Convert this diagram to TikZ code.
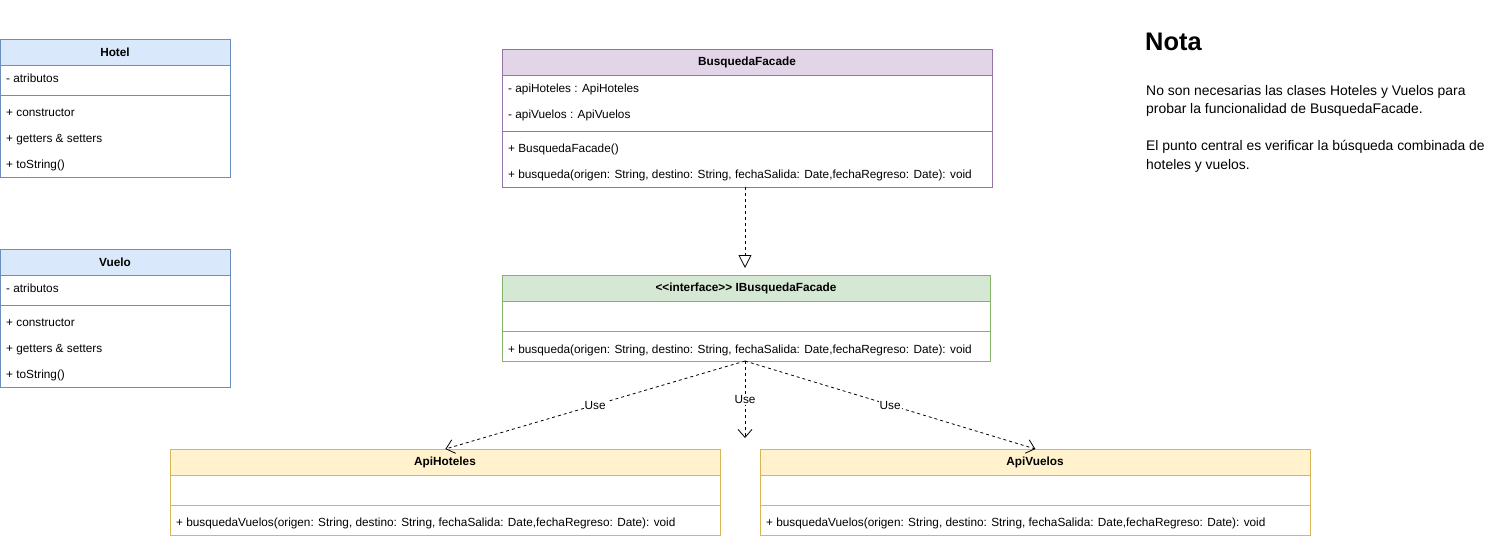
\documentclass[tikz,border=0pt]{standalone}
\usepackage{fontspec}
\setmainfont{Liberation Sans}
\usepackage{xcolor}
\usetikzlibrary{positioning,calc,arrows.meta}

\definecolor{blueFill}{HTML}{DAE8FC}
\definecolor{blueLine}{HTML}{6C8EBF}
\definecolor{purpleFill}{HTML}{E1D5E7}
\definecolor{purpleLine}{HTML}{9673A6}
\definecolor{greenFill}{HTML}{D5E8D4}
\definecolor{greenLine}{HTML}{82B366}
\definecolor{yellowFill}{HTML}{FFF2CC}
\definecolor{yellowLine}{HTML}{D6B656}

\tikzset{
  classbox/.style={draw, rectangle, anchor=north west, inner sep=0pt, line width=0.8pt},
  classname/.style={inner sep=0pt, font=\bfseries\fontsize{11.8}{14}\selectfont},
  member/.style={anchor=base west, inner sep=0pt, font=\fontsize{11.8}{14}\selectfont},
  dep/.style={line width=0.8pt, dash pattern=on 3pt off 3pt},
  uselabel/.style={fill=white, inner sep=1pt, font=\fontsize{11.8}{14}\selectfont},
  notaline/.style={anchor=base west, inner sep=0pt, font=\fontsize{13.9}{18}\selectfont}
}

\begin{document}
\begin{tikzpicture}[x=1pt, y=-1pt]
    \useasboundingbox[fill=white] (0,0) rectangle (1501,539);

    % Hotel
    \fill[blueFill] (0,39) rectangle (230,65);
    \node[classbox, draw=blueLine, minimum width=230pt, minimum height=138pt] (hotel) at (0,39) {};
    \draw[blueLine, line width=0.8pt] (0,65) -- (230,65) (0,95) -- (230,95);
    \node[classname] (hotelName) at (115,52) {Hotel};
    \node[member] (hotelAttr) at (6,82) {- atributos};
    \node[member] (hotelM1) at (6,116) {+ constructor};
    \node[member] (hotelM2) at (6,142) {+ getters \& setters};
    \node[member] (hotelM3) at (6,168) {+ toString()};

    % Vuelo
    \fill[blueFill] (0,249) rectangle (230,275);
    \node[classbox, draw=blueLine, minimum width=230pt, minimum height=138pt] (vuelo) at (0,249) {};
    \draw[blueLine, line width=0.8pt] (0,275) -- (230,275) (0,305) -- (230,305);
    \node[classname] (vueloName) at (115,262) {Vuelo};
    \node[member] (vueloAttr) at (6,292) {- atributos};
    \node[member] (vueloM1) at (6,326) {+ constructor};
    \node[member] (vueloM2) at (6,352) {+ getters \& setters};
    \node[member] (vueloM3) at (6,378) {+ toString()};

    % BusquedaFacade
    \fill[purpleFill] (502,49) rectangle (992,75);
    \node[classbox, draw=purpleLine, minimum width=490pt, minimum height=138pt] (fachada) at (502,49) {};
    \draw[purpleLine, line width=0.8pt] (502,75) -- (992,75) (502,131) -- (992,131);
    \node[classname] (fachadaName) at (747,62) {BusquedaFacade};
    \node[member] (fachadaA1) at (508,92) {- apiHoteles : ApiHoteles};
    \node[member] (fachadaA2) at (508,118) {- apiVuelos : ApiVuelos};
    \node[member] (fachadaM1) at (508,152) {+ BusquedaFacade()};
    \node[member] (fachadaM2) at (508,178) {+ busqueda(origen: String, destino: String, fechaSalida: Date,fechaRegreso: Date): void};

    % IBusquedaFacade
    \fill[greenFill] (502,275) rectangle (990,301);
    \node[classbox, draw=greenLine, minimum width=488pt, minimum height=86pt] (ifachada) at (502,275) {};
    \draw[greenLine, line width=0.8pt] (502,301) -- (990,301) (502,331) -- (990,331);
    \node[classname] (ifachadaName) at (746,288) {{<}{<}interface{>}{>} IBusquedaFacade};
    \node[member] (ifachadaM1) at (508,353) {+ busqueda(origen: String, destino: String, fechaSalida: Date,fechaRegreso: Date): void};

    % ApiHoteles
    \fill[yellowFill] (170,449) rectangle (720,475);
    \node[classbox, draw=yellowLine, minimum width=550pt, minimum height=86pt] (apiHoteles) at (170,449) {};
    \draw[yellowLine, line width=0.8pt] (170,475) -- (720,475) (170,505) -- (720,505);
    \node[classname] (apiHotelesName) at (445,462) {ApiHoteles};
    \node[member] (apiHotelesM1) at (176,526) {+ busquedaVuelos(origen: String, destino: String, fechaSalida: Date,fechaRegreso: Date): void};

    % ApiVuelos
    \fill[yellowFill] (760,449) rectangle (1310,475);
    \node[classbox, draw=yellowLine, minimum width=550pt, minimum height=86pt] (apiVuelos) at (760,449) {};
    \draw[yellowLine, line width=0.8pt] (760,475) -- (1310,475) (760,505) -- (1310,505);
    \node[classname] (apiVuelosName) at (1035,462) {ApiVuelos};
    \node[member] (apiVuelosM1) at (766,526) {+ busquedaVuelos(origen: String, destino: String, fechaSalida: Date,fechaRegreso: Date): void};

    % relaciones
    \coordinate (fachadaOut) at (745,187);
    \coordinate (ifachadaOut) at (745,361);
    \coordinate (useEnd) at (745,438);
    \draw[dep, -{Triangle[open, length=13pt, width=13pt, line width=0.8pt]}, shorten >=7pt] (fachadaOut) -- (fachadaOut |- ifachada.north);
    \draw[dep, -{Straight Barb[length=8pt, width=14pt, line width=0.8pt]}] (ifachadaOut) -- node[uselabel] (use1) {Use} (apiHoteles.north);
    \draw[dep, -{Straight Barb[length=8pt, width=14pt, line width=0.8pt]}] (ifachadaOut) -- node[uselabel] (use2) {Use} (useEnd);
    \draw[dep, -{Straight Barb[length=8pt, width=14pt, line width=0.8pt]}] (ifachadaOut) -- node[uselabel] (use3) {Use} (apiVuelos.north);

    % Nota
    \node[anchor=base west, inner sep=0pt, font=\bfseries\fontsize{25.4}{30}\selectfont] (notaTitle) at (1145,50) {Nota};
    \node[notaline] (nota1) at (1146,95) {No son necesarias las clases Hoteles y Vuelos para};
    \node[notaline] (nota2) at (1146,113) {probar la funcionalidad de BusquedaFacade.};
    \node[notaline] (nota3) at (1146,150) {El punto central es verificar la búsqueda combinada de};
    \node[notaline] (nota4) at (1146,169) {hoteles y vuelos.};
\end{tikzpicture}
\end{document}
